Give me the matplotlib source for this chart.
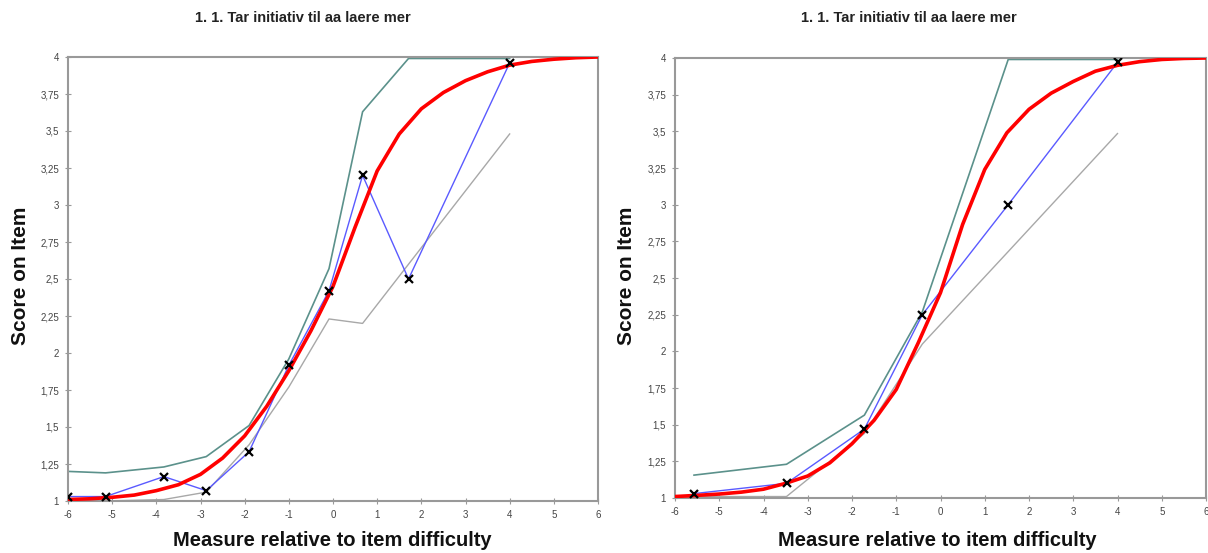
import matplotlib
matplotlib.use("Agg")
import matplotlib.pyplot as plt
from matplotlib.ticker import FuncFormatter

plt.rcParams['font.family'] = ['Liberation Sans', 'DejaVu Sans']

title_text = "1. 1. Tar initiativ til aa laere mer"
xlabel_text = "Measure relative to item difficulty"
ylabel_text = "Score on Item"
x_ticks = [-6, -5, -4, -3, -2, -1, 0, 1, 2, 3, 4, 5, 6]
y_ticks = [1, 1.25, 1.5, 1.75, 2, 2.25, 2.5, 2.75, 3, 3.25, 3.5, 3.75, 4]

# Model curve
model_x = [-6, -5.5, -5, -4.5, -4, -3.5, -3, -2.5, -2, -1.5, -1, -0.5, 0, 0.5,
           1, 1.5, 2, 2.5, 3, 3.5, 4, 4.5, 5, 5.5, 6]
left_model_y = [1.01, 1.015, 1.025, 1.04, 1.07, 1.11, 1.18, 1.29, 1.44, 1.64, 1.88,
                2.15, 2.45, 2.85, 3.23, 3.48, 3.65, 3.76, 3.84, 3.90, 3.945, 3.97,
                3.985, 3.995, 4.0]
right_model_y = [1.01, 1.018, 1.027, 1.04, 1.06, 1.10, 1.15, 1.24, 1.37, 1.53, 1.74,
                 2.06, 2.40, 2.865, 3.24, 3.49, 3.65, 3.76, 3.84, 3.91, 3.95, 3.975,
                 3.99, 3.997, 4.0]

# Left panel observed data
left_obs_x = [-6.0, -5.15, -3.83, -2.87, -1.90, -1.0, -0.09, 0.67, 1.71, 4.0]
left_obs_y = [1.03, 1.03, 1.165, 1.07, 1.333, 1.917, 2.42, 3.2, 2.5, 3.96]
left_upper_y = [1.2, 1.19, 1.23, 1.30, 1.51, 1.96, 2.57, 3.63, 3.99, 3.99]
left_lower_y = [1.0, 1.0, 1.01, 1.06, 1.38, 1.77, 2.23, 2.20, 2.60, 3.48]

# Right panel observed data
right_obs_x = [-5.57, -3.48, -1.72, -0.41, 1.53, 4.0]
right_obs_y = [1.03, 1.10, 1.47, 2.25, 3.0, 3.97]
right_upper_y = [1.156, 1.23, 1.565, 2.27, 3.99, 3.99]
right_lower_y = [1.01, 1.01, 1.44, 2.05, 2.68, 3.485]

RED = '#ff0000'
BLUE = '#5a5aff'
TEAL = '#5b918b'
GREY = '#a8a8a8'
FRAME = '#999999'

W, H = 1208, 553
fig = plt.figure(figsize=(W / 100, H / 100), dpi=100)

def fmt(v, pos):
    s = ('%g' % v).replace('.', ',')
    return s

def panel(rect, obs_x, obs_y, up_y, lo_y, mod_y, title_x, ylab_x, xlab_x):
    ax = fig.add_axes(rect)
    ax.plot(obs_x, up_y, color=TEAL, lw=1.2, zorder=2)
    ax.plot(obs_x, lo_y, color=GREY, lw=1.0, zorder=2)
    ax.plot(obs_x, obs_y, color=BLUE, lw=1.0, zorder=3)
    ax.plot(model_x, mod_y, color=RED, lw=2.6, zorder=4, solid_capstyle='round',
            solid_joinstyle='round')
    ax.plot(obs_x, obs_y, linestyle='none', marker='x', color='black',
            markersize=5.5, mew=1.6, zorder=5)
    ax.set_xlim(-6, 6)
    ax.set_ylim(1, 4)
    ax.set_xticks(x_ticks)
    ax.set_yticks(y_ticks)
    ax.yaxis.set_major_formatter(FuncFormatter(fmt))
    ax.xaxis.set_major_formatter(FuncFormatter(fmt))
    ax.tick_params(direction='inout', length=5, width=0.8, color=FRAME,
                   labelsize=7, labelcolor='#444444', pad=4)
    for s in ax.spines.values():
        s.set_color(FRAME)
        s.set_linewidth(1.5)
    fig.text(title_x / W, 1 - 18 / H, title_text, ha='center', va='center',
             fontsize=10.5, fontweight='bold', color='#222222')
    fig.text(ylab_x / W, 1 - 276 / H, ylabel_text, ha='center', va='center',
             rotation=90, fontsize=15, fontweight='bold', color='#111111')
    fig.text(xlab_x / W, 1 - 541 / H, xlabel_text, ha='center', va='center',
             fontsize=14.5, fontweight='bold', color='#111111')
    return ax

panel([68 / W, 1 - 501 / H, 530 / W, 444 / H],
      left_obs_x, left_obs_y, left_upper_y, left_lower_y, left_model_y,
      303, 21, 332)
panel([675 / W, 1 - 498 / H, 531 / W, 440 / H],
      right_obs_x, right_obs_y, right_upper_y, right_lower_y, right_model_y,
      909, 627, 937)

fig.savefig('out.png', dpi=100)
